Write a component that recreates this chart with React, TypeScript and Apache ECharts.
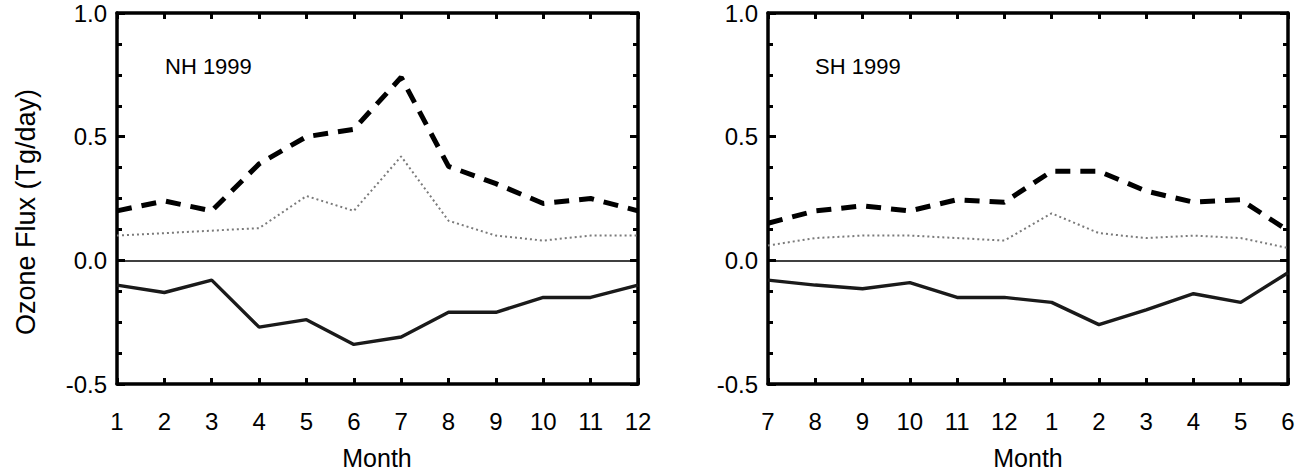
import React, { useEffect, useRef } from "react";
import * as echarts from "echarts";

const nhMonths = ["1", "2", "3", "4", "5", "6", "7", "8", "9", "10", "11", "12"];
const shMonths = ["7", "8", "9", "10", "11", "12", "1", "2", "3", "4", "5", "6"];

const nhDashed = [0.2, 0.24, 0.2, 0.39, 0.5, 0.53, 0.74, 0.38, 0.31, 0.23, 0.25, 0.2];
const nhDotted = [0.1, 0.11, 0.12, 0.13, 0.26, 0.2, 0.42, 0.16, 0.1, 0.08, 0.1, 0.1];
const nhSolid = [-0.1, -0.13, -0.08, -0.27, -0.24, -0.34, -0.31, -0.21, -0.21, -0.15, -0.15, -0.1];

const shDashed = [0.15, 0.2, 0.22, 0.2, 0.245, 0.235, 0.36, 0.36, 0.28, 0.235, 0.245, 0.12];
const shDotted = [0.06, 0.09, 0.1, 0.1, 0.09, 0.08, 0.19, 0.11, 0.09, 0.1, 0.09, 0.05];
const shSolid = [-0.08, -0.1, -0.115, -0.09, -0.15, -0.15, -0.17, -0.26, -0.2, -0.135, -0.17, -0.05];

const panelTitles = ["NH 1999", "SH 1999"];
const yTicks = { min: -0.5, max: 1.0, interval: 0.5 };

const FONT = "Liberation Sans, Arial, Helvetica, sans-serif";

export default function App() {
  const ref = useRef<HTMLDivElement>(null);
  useEffect(() => {
    if (!ref.current) return;
    const chart = echarts.init(ref.current, null, { renderer: "svg" });
    const grids = [
      { left: 117, top: 13, width: 521, height: 371 },
      { left: 768, top: 13, width: 520, height: 371 },
    ];
    const cats = [nhMonths, shMonths];
    const lineAxis = { show: true, onZero: false, lineStyle: { color: "#000", width: 3.5 } };
    const xAxes: any[] = [];
    const yAxes: any[] = [];
    [0, 1].forEach((g) => {
      xAxes.push({
        type: "category",
        gridIndex: g,
        data: cats[g],
        boundaryGap: false,
        position: "bottom",
        axisLine: lineAxis,
        axisTick: { show: true, inside: true, length: 6, lineStyle: { color: "#000", width: 3 } },
        axisLabel: { color: "#000", fontSize: 24, fontFamily: FONT, margin: 25, interval: 0 },
        splitLine: { show: false },
      });
      xAxes.push({
        type: "category",
        gridIndex: g,
        data: cats[g],
        boundaryGap: false,
        position: "top",
        axisLine: lineAxis,
        axisTick: { show: true, inside: true, length: 6, lineStyle: { color: "#000", width: 3 } },
        axisLabel: { show: false },
        splitLine: { show: false },
      });
      ["left", "right"].forEach((pos) => {
        yAxes.push({
          type: "value",
          gridIndex: g,
          position: pos,
          min: yTicks.min,
          max: yTicks.max,
          interval: yTicks.interval,
          axisLine: lineAxis,
          axisTick: { show: true, inside: true, length: 8, lineStyle: { color: "#000", width: 3 } },
          minorTick: { show: true, splitNumber: 4, length: 5, lineStyle: { color: "#000", width: 3 } },
          axisLabel: {
            show: pos === "left",
            color: "#000",
            fontSize: 24,
            fontFamily: FONT,
            margin: 10,
            formatter: (v: number) => v.toFixed(1),
          },
          splitLine: { show: false },
          minorSplitLine: { show: false },
        });
      });
    });

    const data = [
      [nhDashed, nhDotted, nhSolid],
      [shDashed, shDotted, shSolid],
    ];
    const series: any[] = [];
    [0, 1].forEach((g) => {
      const xi = g * 2;
      const yi = g * 2;
      series.push({
        type: "line",
        xAxisIndex: xi,
        yAxisIndex: yi,
        data: data[g][2],
        symbol: "none",
        lineStyle: { color: "#1a1a1a", width: 3.4 },
        markLine: {
          silent: true,
          symbol: "none",
          label: { show: false },
          lineStyle: { color: "#000", width: 1.5, type: "solid" },
          data: [{ yAxis: 0 }],
        },
      });
      series.push({
        type: "line",
        xAxisIndex: xi,
        yAxisIndex: yi,
        data: data[g][0],
        symbol: "none",
        lineStyle: { color: "#000", width: 5, type: [15, 10] },
      });
      series.push({
        type: "line",
        xAxisIndex: xi,
        yAxisIndex: yi,
        data: data[g][1],
        symbol: "none",
        lineStyle: { color: "#7a7a7a", width: 2, type: [2, 3] },
      });
    });

    const graphic: any[] = [
      {
        type: "text",
        x: 165,
        y: 66,
        style: { text: panelTitles[0], fill: "#000", font: `22px ${FONT}`, textAlign: "left", textVerticalAlign: "middle" },
      },
      {
        type: "text",
        x: 815,
        y: 66,
        style: { text: panelTitles[1], fill: "#000", font: `22px ${FONT}`, textAlign: "left", textVerticalAlign: "middle" },
      },
      {
        type: "text",
        x: 377,
        y: 458,
        style: { text: "Month", fill: "#000", font: `25px ${FONT}`, textAlign: "center", textVerticalAlign: "middle" },
      },
      {
        type: "text",
        x: 1028,
        y: 458,
        style: { text: "Month", fill: "#000", font: `25px ${FONT}`, textAlign: "center", textVerticalAlign: "middle" },
      },
      {
        type: "text",
        x: 26,
        y: 212,
        rotation: Math.PI / 2,
        style: { text: "Ozone Flux (Tg/day)", fill: "#000", font: `27px ${FONT}`, textAlign: "center", textVerticalAlign: "middle" },
      },
    ];

    chart.setOption({
      animation: false,
      backgroundColor: "#fff",
      grid: grids,
      xAxis: xAxes,
      yAxis: yAxes,
      series,
      graphic,
    });
    return () => chart.dispose();
  }, []);
  return (
    <div
      ref={ref}
      style={{ position: "fixed", left: 0, top: 0, width: 1301, height: 472, background: "#fff" }}
    />
  );
}
